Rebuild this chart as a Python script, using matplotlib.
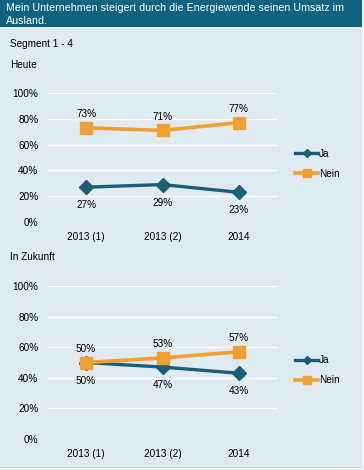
import matplotlib.pyplot as plt
from matplotlib.patches import Rectangle

plt.rcParams['font.family'] = ['Liberation Sans', 'DejaVu Sans']

categories = ['2013 (1)', '2013 (2)', '2014']
heute_ja = [27, 29, 23]
heute_nein = [73, 71, 77]
zukunft_ja = [50, 47, 43]
zukunft_nein = [50, 53, 57]
y_ticks = [0, 20, 40, 60, 80, 100]

title = 'Mein Unternehmen steigert durch die Energiewende seinen Umsatz im\nAusland.'
teal = '#1a5f78'
orange = '#f0a030'
bg = '#e0eaf1'
fs = 7.2

W, H = 364, 470
fig = plt.figure(figsize=(W / 100, H / 100), dpi=100)
fig.patch.set_facecolor(bg)

# title bar and frame edges
fig.add_artist(Rectangle((0, 1 - 27 / H), 1, 27 / H, transform=fig.transFigure,
                         facecolor='#0f6282', edgecolor='none'))
fig.add_artist(Rectangle((0, 0), 1, 3 / H, transform=fig.transFigure,
                         facecolor='#f4f8fb', edgecolor='none'))
fig.add_artist(Rectangle((0, 2.5 / H), 1, 1 / H, transform=fig.transFigure,
                         facecolor='#c8d8e3', edgecolor='none'))
fig.add_artist(Rectangle((1 - 2 / W, 0), 2 / W, 1, transform=fig.transFigure,
                         facecolor='#f4f8fb', edgecolor='none'))
fig.text(6 / W, 1 - 14.5 / H, title, color='white', fontsize=7.7, va='center',
         ha='left', linespacing=1.35)
fig.text(10 / W, 1 - 44 / H, 'Segment 1 - 4', fontsize=fs, va='center')
fig.text(10 / W, 1 - 65 / H, 'Heute', fontsize=fs, va='center')
fig.text(10 / W, 1 - 257 / H, 'In Zukunft', fontsize=fs, va='center')


def panel(top_px, bot_px, ja, nein):
    ax = fig.add_axes([48 / W, 1 - bot_px / H, 229 / W, (bot_px - top_px) / H])
    ax.set_facecolor(bg)
    x = list(range(len(categories)))
    ax.plot(x, ja, color=teal, lw=2.4, marker='D', ms=7, label='Ja', zorder=3)
    ax.plot(x, nein, color=orange, lw=2.6, marker='s', ms=8, label='Nein', zorder=4)
    for i in x:
        ax.annotate(f'{ja[i]}%', (i, ja[i]), xytext=(0, -13), textcoords='offset points',
                    ha='center', va='center', fontsize=fs)
        ax.annotate(f'{nein[i]}%', (i, nein[i]), xytext=(0, 10), textcoords='offset points',
                    ha='center', va='center', fontsize=fs)
    ax.set_xlim(-0.5, 2.5)
    ax.set_ylim(0, 100)
    ax.set_yticks(y_ticks)
    ax.set_yticklabels([f'{v}%' for v in y_ticks])
    ax.set_xticks(x)
    ax.set_xticklabels(categories)
    ax.grid(axis='y', color='white', lw=1)
    ax.set_axisbelow(True)
    for s in ax.spines.values():
        s.set_visible(False)
    ax.tick_params(length=0, labelsize=fs, pad=7)
    ax.legend(loc='center left', bbox_to_anchor=(1.04, 0.45), frameon=False,
              fontsize=fs, handlelength=2.3, handletextpad=0.1, labelspacing=1.0,
              markerscale=0.65)
    return ax


panel(93, 222, heute_ja, heute_nein)
panel(286, 439, zukunft_ja, zukunft_nein)

fig.savefig('out.png', dpi=100, facecolor=bg)
